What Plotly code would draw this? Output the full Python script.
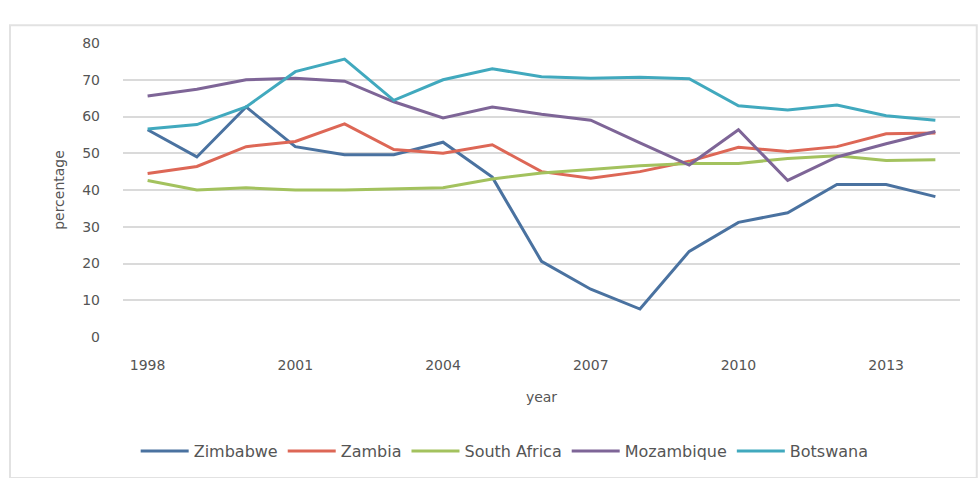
import plotly.graph_objects as go

years = list(range(1998, 2015))
zimbabwe = [56.4, 49.0, 62.6, 51.8, 49.6, 49.6, 53.0, 43.5, 20.6, 13.0, 7.6, 23.3, 31.2, 33.8, 41.5, 41.5, 38.2]
zambia = [44.5, 46.4, 51.8, 53.2, 58.0, 51.0, 50.0, 52.3, 45.0, 43.2, 45.0, 47.8, 51.6, 50.5, 51.8, 55.3, 55.5]
south_africa = [42.6, 40.0, 40.6, 40.0, 40.0, 40.3, 40.6, 43.0, 44.6, 45.6, 46.6, 47.2, 47.2, 48.6, 49.3, 48.0, 48.2]
mozambique = [65.6, 67.4, 70.0, 70.4, 69.6, 64.0, 59.6, 62.6, 60.6, 59.0, 52.8, 46.8, 56.4, 42.6, 49.0, 52.6, 55.9]
botswana = [56.6, 57.8, 62.6, 72.2, 75.6, 64.4, 70.0, 73.0, 70.8, 70.4, 70.7, 70.3, 62.9, 61.8, 63.1, 60.2, 59.0]

series = [
    ("Zimbabwe", zimbabwe, "#4A72A0"),
    ("Zambia", zambia, "#DD6756"),
    ("South Africa", south_africa, "#A3C25E"),
    ("Mozambique", mozambique, "#7E6597"),
    ("Botswana", botswana, "#41A9BE"),
]

x_ticks = [1998, 2001, 2004, 2007, 2010, 2013]
y_ticks = [0, 10, 20, 30, 40, 50, 60, 70, 80]

fig = go.Figure()
for name, vals, color in series:
    fig.add_trace(go.Scatter(x=years, y=vals, mode="lines", name=name,
                             line=dict(color=color, width=3)))

font_family = "DejaVu Sans"
txt = "#555555"

fig.update_layout(
    width=979, height=478,
    margin=dict(l=123, r=19, t=43, b=140),
    paper_bgcolor="white", plot_bgcolor="white",
    font=dict(family=font_family, size=14, color=txt),
    showlegend=True,
    legend=dict(orientation="h", x=0.456, xanchor="center", y=-0.383, yanchor="middle",
                font=dict(family=font_family, size=16, color=txt),
                itemwidth=48, tracegroupgap=0),
    shapes=[dict(type="rect", xref="paper", yref="paper",
                 x0=-0.135, x1=1.02, y0=-0.48, y1=1.06,
                 line=dict(color="#E2E2E2", width=2), layer="below")],
)

fig.update_xaxes(range=[1997.5, 2014.5], tickvals=x_ticks, ticktext=[str(v) for v in x_ticks],
                 showgrid=False, zeroline=False, showline=False, ticks="",
                 ticklabelstandoff=18, tickfont=dict(size=14, color=txt),
                 title=dict(text="year", standoff=20, font=dict(size=14, color=txt)))
fig.update_yaxes(range=[0, 80], tickvals=y_ticks, showgrid=True, gridcolor="#DADADA", gridwidth=1.6,
                 zeroline=False, showline=False, ticks="",
                 ticklabelstandoff=22, tickfont=dict(size=14, color=txt),
                 title=dict(text="percentage", standoff=14, font=dict(size=14, color=txt)))

fig.write_html("out.html")
